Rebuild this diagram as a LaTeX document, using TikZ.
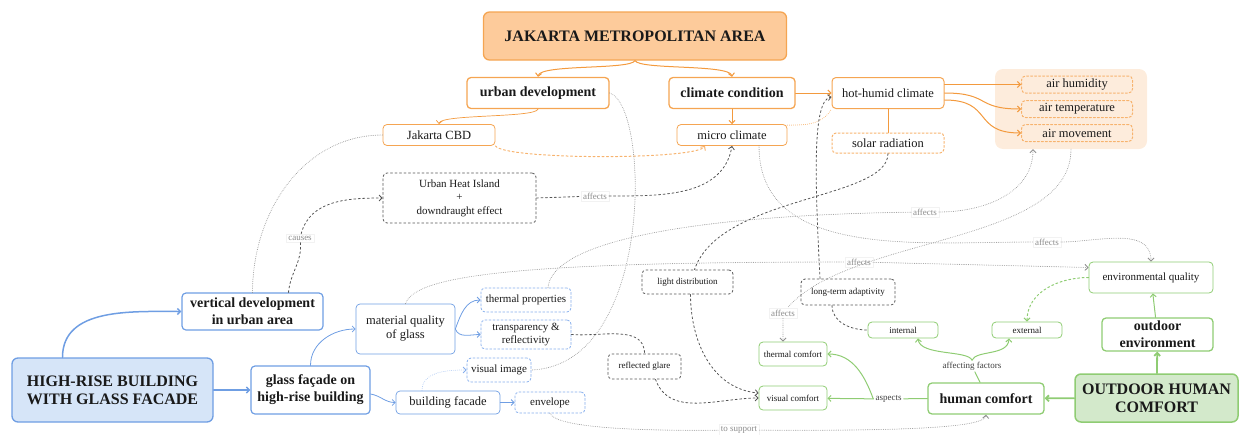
\documentclass[tikz,border=0pt]{standalone}
\usepackage{fontspec}
\setmainfont{Liberation Serif}
\usetikzlibrary{arrows.meta}
\definecolor{orgline}{HTML}{F39A3E}
\definecolor{orgbox}{HTML}{F5A552}
\definecolor{orgfill}{HTML}{FDCB9B}
\definecolor{orgzone}{HTML}{FDECDC}
\definecolor{orgdash}{HTML}{F7B36E}
\definecolor{blueline}{HTML}{6F9EE3}
\definecolor{bluefill}{HTML}{D6E5F8}
\definecolor{bluedash}{HTML}{86AEEC}
\definecolor{greenline}{HTML}{8FCC73}
\definecolor{greenfill}{HTML}{D3E9CB}
\definecolor{darkdash}{HTML}{555555}
\definecolor{graydot}{HTML}{909090}
\begin{document}
\begin{tikzpicture}[x=1pt, y=-1pt, line join=round, line cap=round, >={Straight Barb[length=3pt,width=6pt]},
	fA/.style={font=\fontsize{16}{18}\selectfont\bfseries},
	fB/.style={font=\fontsize{14}{17}\selectfont\bfseries},
	fC/.style={font=\fontsize{12.5}{14}\selectfont},
	fD/.style={font=\fontsize{11}{13.5}\selectfont},
	fE/.style={font=\fontsize{9}{11}\selectfont},
	box/.style={draw, rounded corners=4pt, align=center, inner sep=0pt, text=black!90},
	ob/.style={box, draw=orgbox, line width=1pt},
	odb/.style={box, draw=orgdash, line width=1pt, dash pattern=on 2pt off 2pt},
	bb/.style={box, draw=blueline, line width=1pt},
	bdb/.style={box, draw=bluedash, line width=.8pt, dash pattern=on 2pt off 2pt},
	gb/.style={box, draw=greenline, line width=1pt},
	kb/.style={box, draw=darkdash, line width=.8pt, dash pattern=on 2pt off 2.5pt},
	lbl/.style={fill=white, draw=black!5, text=black!45, inner sep=2pt, fE},
	oline/.style={draw=orgline, line width=1pt},
	bline/.style={draw=blueline, line width=.8pt},
	gline/.style={draw=greenline, line width=1pt},
	kdash/.style={draw=darkdash, line width=.8pt, dash pattern=on 2pt off 2.5pt},
	gdot/.style={draw=graydot, line width=.9pt, dash pattern=on 0pt off 1.8pt}]
	\useasboundingbox (0,0) rectangle (1239,434);
	% orange part
	\node[ob, fill=orgfill, fA, line width=1.3pt, rounded corners=6pt, minimum width=303pt, minimum height=48pt] (jma) at (635,36) {JAKARTA METROPOLITAN AREA};
	\node[ob, fB, line width=1.3pt, minimum width=142pt, minimum height=31pt] (urbdev) at (538,93) {urban development};
	\node[ob, fB, line width=1.3pt, minimum width=126pt, minimum height=31pt] (climcond) at (732,93) {climate condition};
	\node[ob, fC, minimum width=112pt, minimum height=31pt] (hothum) at (888,93) {hot-humid climate};
	\node[ob, fC, line width=.8pt, minimum width=112pt, minimum height=21pt] (cbd) at (439,135) {Jakarta CBD};
	\node[ob, fC, line width=.8pt, minimum width=110pt, minimum height=21pt] (micro) at (732,135) {micro climate};
	\node[odb, fC, minimum width=112pt, minimum height=20pt] (solar) at (888,143) {solar radiation};
	\node[fill=orgzone, rounded corners=8pt, minimum width=152pt, minimum height=80pt] (airzone) at (1071,109) {};
	\foreach \n/\t/\y in {airhum/air humidity/84.5, airtemp/air temperature/109, airmov/air movement/133}
		\node[odb, fC, minimum width=111pt, minimum height=17pt] (\n) at (1077,\y) {\t};
	% blue part
	\node[bb, fill=bluefill, fA, line width=1.3pt, rounded corners=6pt, minimum width=201pt, minimum height=64pt] (hrb) at (112.5,390) {HIGH-RISE BUILDING\\WITH GLASS FACADE};
	\node[bb, fB, line width=1.2pt, minimum width=141pt, minimum height=37pt] (vertdev) at (252.5,311.5) {vertical development\\in urban area};
	\node[bb, fB, line width=1.2pt, minimum width=119pt, minimum height=48pt] (glassfac) at (310.5,390) {glass façade on\\high-rise building};
	\node[bb, fC, line width=.7pt, minimum width=99pt, minimum height=50pt] (matq) at (405.5,329) {material quality\\of glass};
	\node[bdb, fD, minimum width=90pt, minimum height=24pt] (thermprop) at (526,300) {thermal properties};
	\node[bdb, fD, minimum width=90pt, minimum height=29pt] (transp) at (526,334.5) {transparency \&\\reflectivity};
	\node[bdb, fD, minimum width=64pt, minimum height=24pt] (visimg) at (499,370) {visual image};
	\node[bb, fC, line width=.7pt, minimum width=104pt, minimum height=23pt] (bldfac) at (448,402.5) {building facade};
	\node[bdb, fD, minimum width=70pt, minimum height=21pt] (envelope) at (550,402.5) {envelope};
	% dashed boxes
	\node[kb, fD, minimum width=153pt, minimum height=50pt] (uhi) at (459.5,198) {Urban Heat Island\\+\\downdraught effect};
	\node[kb, fE, minimum width=91pt, minimum height=24pt] (lightd) at (687.5,282) {light distribution};
	\node[kb, fE, minimum width=73pt, minimum height=25pt] (glare) at (644.5,366.5) {reflected glare};
	\node[kb, fE, minimum width=94pt, minimum height=26pt] (ltadapt) at (848,292) {long-term adaptivity};
	% green part
	\node[gb, fill=greenfill, fA, line width=1.5pt, rounded corners=6pt, minimum width=163pt, minimum height=48pt] (ohc) at (1156.5,398) {OUTDOOR HUMAN\\COMFORT};
	\node[gb, fB, line width=1.3pt, minimum width=111pt, minimum height=33pt] (outenv) at (1157.5,334.5) {outdoor\\environment};
	\node[gb, fD, line width=.8pt, minimum width=124pt, minimum height=31pt] (envq) at (1151,277.5) {environmental quality};
	\node[gb, fB, line width=1.3pt, minimum width=116pt, minimum height=31pt] (humc) at (986,398.5) {human comfort};
	\node[gb, fE, line width=.8pt, minimum width=68pt, minimum height=24pt] (thermc) at (793,354) {thermal comfort};
	\node[gb, fE, line width=.8pt, minimum width=68pt, minimum height=24pt] (visc) at (793,398) {visual comfort};
	\node[gb, fE, line width=.8pt, minimum width=70pt, minimum height=16pt] (internal) at (903,330) {internal};
	\node[gb, fE, line width=.8pt, minimum width=70pt, minimum height=16pt] (external) at (1027,330) {external};
	% labels
	\foreach \n/\t/\x/\y in {affA/affects/595/196, affB/affects/925/212, affC/affects/1047/242, affD/affects/859/262, affE/affects/783/313, cause/causes/300/238, supp/to support/739/430}
		\node[lbl] (\n) at (\x,\y) {\t};
	\node[fE, text=black!75, fill=white, inner sep=1.5pt] (afffac) at (972,366) {affecting factors};
	\node[fE, text=black!75, fill=white, inner sep=2pt] (aspects) at (888.5,399) {aspects};
	% orange connectors
	\draw[oline,->] (jma.south) .. controls (630,70) and (540,64) .. (urbdev.north);
	\draw[oline,->] (jma.south) .. controls (640,70) and (730,64) .. (climcond.north);
	\draw[oline,->,line width=.7pt] (urbdev.south) .. controls (535,118) and (440,114) .. (cbd.north);
	\draw[oline,->] (climcond) -- (micro);
	\draw[oline,->] (climcond) -- (hothum);
	\draw[oline] (hothum) -- (solar);
	\draw[oline,->] (hothum.east |- airhum.west) -- (airhum.west);
	\draw[oline,->] (hothum.east) to[out=0,in=180,looseness=1.5] (airtemp.west);
	\draw[oline,->] ([yshift=-7pt]hothum.east) to[out=0,in=180,looseness=1.5] (airmov.west);
	\draw[oline,->,draw=orgdash,dash pattern=on 2pt off 2.5pt] (cbd.south east) .. controls (505,160) and (695,160) .. ([xshift=-27pt]micro.south);
	\draw[oline,draw=orgdash,dash pattern=on 0pt off 2pt] ([yshift=-1pt]micro.north east) to[out=0,in=-120] (hothum.south west);
	% dark dashed connectors
	\draw[kdash,->] ([xshift=36pt]vertdev.north) to[out=85,in=-85] (cause) to[out=75,in=180] (uhi.west);
	\draw[kdash,->] (uhi.east) -- (affA) to[out=0,in=-100] (micro.south);
	\draw[kdash] (solar.south) .. controls (888,200) and (720,195) .. ([xshift=7pt]lightd.north);
	\draw[kdash,->] ([xshift=-28pt]ltadapt.north) .. controls (815,180) and (812,100) .. ([yshift=-4pt]hothum.west);
	\draw[kdash] ([xshift=-16pt]ltadapt.south) to[out=-90,in=180] (internal.west);
	\draw[kdash] (transp.east) to[out=-5,in=90] (glare.north);
	\draw[kdash,->] ([xshift=11pt]glare.south) to[out=-70,in=180] (visc.west);
	\draw[kdash,->] ([xshift=3pt]lightd.south) to[out=-90,in=175] ([yshift=5pt]visc.west);
	% gray dotted connectors
	\draw[gdot] (urbdev.east) .. controls (650,105) and (655,365) .. (visimg.east);
	\draw[gdot] (cbd.west) to[out=180,in=90] (vertdev.north);
	\draw[gdot,->] ([xshift=27pt]micro.south) to[out=-90,in=180] (affC) to[out=0,in=90] (envq.north);
	\draw[gdot,->] ([xshift=22pt]thermprop.north) .. controls (552,240) and (700,215) .. (affB) to[out=0,in=-90] ([xshift=-38pt]airzone.south);
	\draw[gdot,->] (matq.north) .. controls (415,275) and (520,262) .. (affD) -- ([yshift=10pt]envq.west);
	\draw[gdot,->] (airzone.south) .. controls (1071,245) and (850,235) .. (affE) -- (affE |- thermc.north);
	\draw[gdot,->] (envelope.south) .. controls (556,428) and (640,431) .. (supp) .. controls (900,431) and (985,428) .. (humc.south);
	% green connectors
	\draw[gline,->,line width=1.8pt] (ohc) -- (humc);
	\draw[gline,->,line width=1.8pt] (ohc) -- (outenv);
	\draw[gline,->] (outenv) -- (envq);
	\draw[gline,->,dash pattern=on 2pt off 2.5pt] (envq.west) to[out=180,in=90] (external.north);
	\draw[gline] (humc.west) -- (aspects);
	\draw[gline,->] (aspects) -- (visc);
	\draw[gline,->] (aspects.west) to[out=110,in=0] (thermc.east);
	\draw[gline] ([xshift=-6pt]humc.north) -- (afffac);
	\draw[gline,->] (afffac.north) .. controls (968,350) and (920,356) .. ([xshift=15pt]internal.south);
	\draw[gline,->] (afffac.north) .. controls (976,350) and (1008,356) .. ([xshift=-18pt]external.south);
	% blue connectors
	\draw[bline,->,line width=1.5pt] ([xshift=-50pt]hrb.north) to[out=90,in=180] (vertdev.west);
	\draw[bline,->,line width=1.5pt] (hrb) -- (glassfac);
	\draw[bline,->] (glassfac.north) to[out=90,in=180] (matq.west);
	\draw[bline,->] ([yshift=-4pt]glassfac.east) to[out=-10,in=180] (bldfac.west);
	\draw[bline,->] (matq.east) to[out=70,in=180] (thermprop.west);
	\draw[bline,->] (matq.east) to[out=-70,in=180] (transp.west);
	\draw[bline,->,draw=bluedash,dash pattern=on 0pt off 2pt] ([xshift=-26pt]bldfac.north) to[out=90,in=180] (visimg.west);
	\draw[bline,->] (bldfac) -- (envelope);
\end{tikzpicture}
\end{document}
